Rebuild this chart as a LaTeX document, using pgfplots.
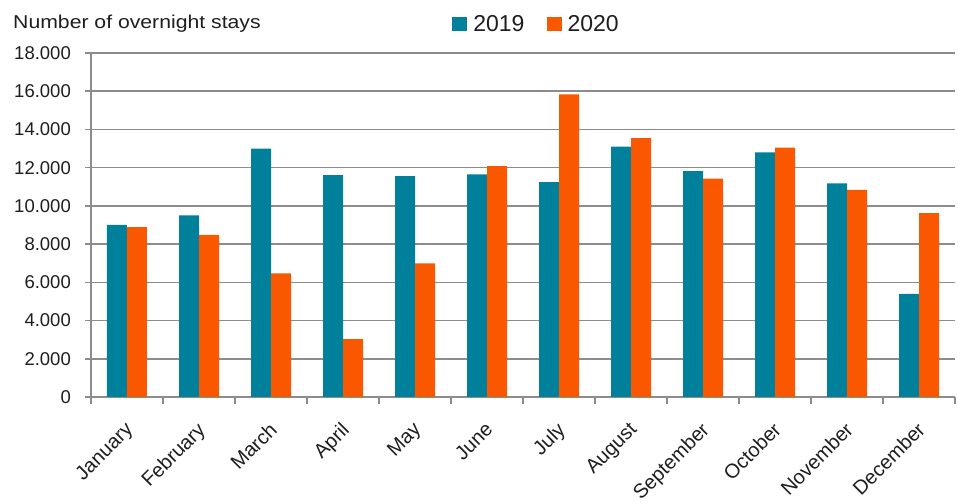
\documentclass[border=0pt]{standalone}
\usepackage{pgfplots}
\pgfplotsset{compat=1.18}
\usepackage{fontspec}
\setmainfont{Liberation Sans}
\newfontfamily\widefont[FakeStretch=1.14]{Liberation Sans}
\definecolor{teal19}{RGB}{0,128,154}
\definecolor{orange20}{RGB}{249,87,0}
\definecolor{gridgray}{RGB}{140,140,140}
\definecolor{txt}{RGB}{30,30,30}
\begin{document}
\begin{tikzpicture}
\begin{axis}[
  at={(0pt,0pt)}, anchor=south west,
  scale only axis, width=864pt, height=344pt,
  ybar=0pt, bar width=20pt,
  xmin=-0.5, xmax=11.5, ymin=0, ymax=18000,
  xtick={0,...,11},
  xticklabels={January,February,March,April,May,June,July,August,September,October,November,December},
  minor xtick={-0.5,0.5,...,11.5},
  major x tick style={draw=none},
  minor x tick style={gridgray, line width=1.5pt},
  minor tick length=7pt,
  ytick={0,2000,...,18000},
  major y tick style={gridgray, line width=1.5pt},
  major tick length=6pt,
  tick align=outside,
  axis x line*=bottom, axis y line*=left,
  axis line style={gridgray, line width=1.5pt, -},
  ymajorgrids, grid style={gridgray, line width=1.5pt},
  scaled y ticks=false,
  /pgf/number format/.cd, 1000 sep={.}, assume math mode=true,
  /pgfplots/.cd,
  tick label style={text=txt},
  yticklabel style={font=\fontsize{18.5}{22}\selectfont, inner sep=0pt, xshift=-14pt},
  xticklabel style={font=\fontsize{20}{23}\selectfont, xshift=-3pt, yshift=-15pt, rotate=45, anchor=north east, inner sep=2pt},
  legend columns=2,
  legend style={draw=none, fill=none, at={(axis description cs:0.418,1.084)}, anchor=west,
    inner xsep=0pt, inner ysep=0pt, text=txt,
    nodes={inner sep=0pt}, font=\fontsize{23}{26}\selectfont, column sep=6pt,
    /tikz/every even column/.append style={column sep=22pt}},
  legend image code/.code={\fill[#1] (0pt,-7pt) rectangle (15pt,7pt);},
  clip=false,
]
\addplot[fill=teal19, draw=none] coordinates {
(0,9000) (1,9500) (2,13000) (3,11610) (4,11560) (5,11650) (6,11240) (7,13100) (8,11820) (9,12800) (10,11180) (11,5400)};
\addplot[fill=orange20, draw=none] coordinates {
(0,8890) (1,8480) (2,6470) (3,3030) (4,6990) (5,12080) (6,15840) (7,13550) (8,11420) (9,13050) (10,10840) (11,9620)};
\legend{2019,2020}
\end{axis}
\node[anchor=base west, inner sep=0pt, text=txt, font=\widefont\fontsize{18.6}{22}\selectfont] at (-78pt,368.7pt) {Number of overnight stays};
\pgfresetboundingbox
\path[use as bounding box] (-91pt,-105pt) rectangle (867pt,397pt);
\end{tikzpicture}
\end{document}
